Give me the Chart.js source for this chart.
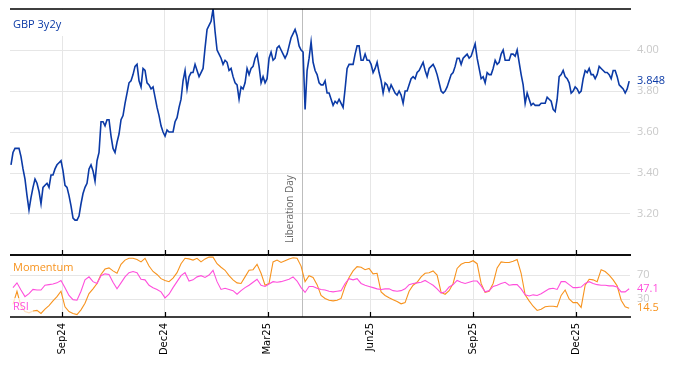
<!DOCTYPE html>
<html><head><meta charset="utf-8">
<script src="https://cdn.jsdelivr.net/npm/chart.js@4.4.1/dist/chart.umd.min.js"></script>
<style>
html,body{margin:0;padding:0;background:#fff;}
#wrap{position:relative;width:674px;height:366px;overflow:hidden;background:#fff;}
#top{position:absolute;left:0;top:0;}
#bot{position:absolute;left:0;top:247px;}
</style></head><body>
<div id="wrap"><canvas id="top" width="674" height="256"></canvas><canvas id="bot" width="674" height="119"></canvas></div>
<script>
// ---- data (x in trading days relative to 2 Sep 2024) ----
const seriesName = 'GBP 3y2y';
const firstDay = -32.25, stepDays = 1.265;
const gbp3y2y = [
3.44,3.50,3.52,3.52,3.52,3.48,3.42,3.37,3.29,3.22,
3.28,3.33,3.37,3.35,3.31,3.25,3.33,3.34,3.35,3.33,
3.39,3.39,3.42,3.44,3.45,3.46,3.41,3.34,3.33,3.29,
3.24,3.18,3.17,3.17,3.19,3.25,3.30,3.33,3.35,3.42,
3.44,3.41,3.36,3.46,3.50,3.65,3.65,3.63,3.66,3.66,
3.58,3.52,3.50,3.55,3.59,3.66,3.68,3.74,3.79,3.84,
3.85,3.88,3.92,3.93,3.85,3.82,3.91,3.90,3.84,3.83,
3.81,3.82,3.77,3.72,3.68,3.63,3.60,3.58,3.61,
3.60,3.60,3.60,3.65,3.67,3.72,3.76,3.85,3.90,3.81,
3.87,3.89,3.89,3.93,3.90,3.87,3.89,3.91,4.01,4.10,
4.12,4.14,4.20,4.09,4.00,3.98,3.96,3.93,3.95,3.94,
3.90,3.91,3.87,3.84,3.83,3.76,3.82,3.81,3.84,3.91,
3.88,3.91,3.92,3.96,3.98,3.92,3.84,3.87,3.84,3.86,
3.96,3.99,3.95,3.96,4.01,4.02,4.00,3.98,3.96,3.98,
4.02,4.06,4.08,4.10,4.07,4.02,4.00,3.99,3.71,3.90,
3.96,4.04,3.94,3.90,3.88,3.84,
3.83,3.83,3.85,3.79,3.79,3.76,3.73,3.75,3.74,3.76,
3.74,3.72,3.81,3.91,3.93,3.93,3.93,3.98,4.02,4.02,
3.95,3.95,3.98,3.95,3.95,3.93,3.89,3.91,3.94,3.89,
3.85,3.79,3.84,3.83,3.80,3.83,3.81,3.79,3.78,3.80,
3.78,3.74,3.80,3.80,3.83,3.86,3.87,3.86,3.89,3.90,
3.92,3.94,3.90,3.87,3.91,3.92,3.93,3.91,3.88,3.84,
3.80,3.79,3.80,3.82,3.85,3.88,3.89,3.92,3.96,3.96,
3.93,3.96,3.97,3.98,3.96,3.97,
4.00,4.03,3.96,3.91,3.86,3.87,3.84,3.89,3.88,3.88,
3.91,3.95,3.93,3.94,3.98,4.00,3.95,3.95,3.95,3.98,
3.98,3.97,4.00,3.94,3.88,3.83,3.74,3.79,3.76,3.73,
3.74,3.73,3.73,3.73,3.74,3.74,3.74,3.77,3.76,3.75,
3.71,3.70,3.76,3.87,3.88,3.90,3.87,3.86,3.84,3.79,
3.80,3.82,3.81,3.79,3.80,3.86,3.90,3.89,3.91,3.88,
3.88,3.86,3.88,3.92,3.91,3.90,3.89,3.89,3.88,3.86,
3.90,3.90,3.87,3.83,3.82,3.81,3.79,3.81,3.848
];
const indFirstDay = -31.0, indStepDays = 2.53;
const momentum = [
21,43,18,9,7,10,11,6,13,19,27,34,43,17,9,6,4,12,23,39,
47,56,71,80,82,77,73,88,95,98,98,96,92,98,85,76,71,64,61,59,
65,74,89,98,97,95,98,92,97,100,100,89,
83,78,69,62,57,56,67,78,79,88,73,53,56,92,95,91,94,97,99,98,85,59,69,66,54,
36,31,28,27,28,31,51,66,77,84,83,79,81,72,73,42,36,32,29,26,
22,24,43,53,58,67,73,74,77,70,41,38,44,56,81,88,91,91,
94,89,56,41,43,56,82,92,91,91,93,96,73,37,27,18,11,13,17,18,
18,17,36,45,30,24,24,16,53,63,62,59,79,76,70,62,52,28,17,14.5
];
const rsi = [
49,57,45,34,39,46,45,45,53,54,55,57,61,49,36,29,28,43,62,67,
59,56,69,72,71,58,47,57,67,74,76,74,63,62,53,49,46,42,32,38,
49,59,69,74,60,62,67,69,66,70,78,59,
46,48,46,44,38,44,49,53,58,63,53,51,55,59,58,59,61,63,67,60,49,41,51,51,48,
46,45,43,42,43,44,56,64,62,64,56,53,51,49,47,46,47,47,44,43,
44,47,54,56,57,58,61,57,53,47,40,42,50,54,61,58,56,58,
60,60,52,42,44,51,53,56,58,53,54,54,47,37,35,37,36,39,43,47,
48,46,59,59,54,49,49,50,56,59,56,54,53,53,52,52,50,42,42,47.1
];
const monthTickDays = [0,65,130,195,260,325];
const monthTickLabels = ['Sep24','Dec24','Mar25','Jun25','Sep25','Dec25'];
const rateTicks = [3.2,3.4,3.6,3.8,4.0];
const indicatorTicks = [30,70];
const eventDay = 152;
const eventLabel = 'Liberation Day';

// ---- styling ----
const BLUE = '#0b3aa6', ORANGE = '#f7931e', PINK = '#ff4fdc', GRID = '#e6e6e6', TICKGREY = '#c9c9c9';
const FONT = 'Open Sans';
const xMin = -32.88, xMax = 359.15;

function xScale(showLabels) {
  return {
    type: 'linear', min: xMin, max: xMax,
    afterBuildTicks(s) { s.ticks = monthTickDays.map(v => ({ value: v })); },
    ticks: {
      display: showLabels, autoSkip: false, minRotation: 90, maxRotation: 90, padding: 6,
      color: '#000', font: { family: 'DejaVu Sans', size: 10 },
      callback: (v, i) => monthTickLabels[i]
    },
    grid: { color: GRID, drawTicks: false },
    border: { display: false },
    afterFit(s) { s.height = showLabels ? 49 : 1; s.paddingLeft = 0; s.paddingRight = 0; }
  };
}

function yAfterFit(s) { s.width = 44; s.paddingTop = 0; s.paddingBottom = 0; }

function frame(chart, withTop) {
  const { ctx, chartArea: a, scales: { x } } = chart;
  ctx.save();
  ctx.strokeStyle = '#000';
  ctx.lineWidth = 1.4;
  ctx.beginPath();
  if (withTop) { ctx.moveTo(a.left, a.top); ctx.lineTo(a.right + 1, a.top); }
  ctx.moveTo(a.left, a.bottom); ctx.lineTo(a.right + 1, a.bottom);
  ctx.stroke();
  ctx.lineWidth = 1.2;
  ctx.beginPath();
  monthTickDays.forEach(d => {
    const px = Math.round(x.getPixelForValue(d)) + 0.5;
    ctx.moveTo(px, a.bottom); ctx.lineTo(px, a.bottom - 5);
  });
  ctx.stroke();
  ctx.restore();
}

function eventLine(chart) {
  const { ctx, chartArea: a, scales: { x } } = chart;
  const ex = Math.round(x.getPixelForValue(eventDay)) + 0.5;
  ctx.save();
  ctx.strokeStyle = '#bdbdbd'; ctx.lineWidth = 1;
  ctx.beginPath(); ctx.moveTo(ex, a.top); ctx.lineTo(ex, a.bottom); ctx.stroke();
  ctx.restore();
  return ex;
}

function lastLabel(chart, scaleId, value, text, color) {
  const { ctx, chartArea: a } = chart;
  const y = chart.scales[scaleId].getPixelForValue(value);
  ctx.save();
  ctx.fillStyle = color; ctx.font = '11px "' + FONT + '"';
  ctx.textAlign = 'left'; ctx.textBaseline = 'middle';
  ctx.fillText(text, a.right + 7, y);
  ctx.restore();
}

const topDeco = {
  id: 'topDeco',
  beforeDatasetsDraw(chart) {
    const { ctx, chartArea: a } = chart;
    const ex = eventLine(chart);
    ctx.save();
    ctx.translate(ex - 12, a.bottom - 12);
    ctx.rotate(-Math.PI / 2);
    ctx.font = '10px "' + FONT + '"'; ctx.fillStyle = '#666';
    ctx.textAlign = 'left'; ctx.textBaseline = 'middle';
    ctx.fillText(eventLabel, 0, 0);
    ctx.restore();
  },
  afterDatasetsDraw(chart) {
    const { ctx, chartArea: a } = chart;
    ctx.save();
    ctx.fillStyle = '#fff';
    ctx.fillRect(a.left, a.top + 1, 55, 26);
    ctx.fillStyle = BLUE; ctx.font = '11px "' + FONT + '"';
    ctx.textAlign = 'left'; ctx.textBaseline = 'middle';
    ctx.fillText(seriesName, a.left + 3, a.top + 16);
    ctx.restore();
    frame(chart, true);
    const last = gbp3y2y[gbp3y2y.length - 1];
    lastLabel(chart, 'y', last, last.toFixed(3), BLUE);
  }
};

const botDeco = {
  id: 'botDeco',
  beforeDatasetsDraw(chart) { eventLine(chart); },
  afterDatasetsDraw(chart) {
    const { ctx, chartArea: a } = chart;
    ctx.save();
    ctx.fillStyle = 'rgba(255,255,255,0.7)';
    ctx.fillRect(a.left, a.top + 43, 23, 18);
    ctx.font = '11px "' + FONT + '"'; ctx.textAlign = 'left'; ctx.textBaseline = 'middle';
    ctx.fillStyle = PINK; ctx.fillText('RSI', a.left + 3, a.top + 52);
    ctx.fillStyle = ORANGE; ctx.fillText('Momentum', a.left + 3, a.top + 13);
    ctx.restore();
    frame(chart, true);
    const lm = momentum[momentum.length - 1], lr = rsi[rsi.length - 1];
    lastLabel(chart, 'y', lr, lr.toFixed(1), PINK);
    lastLabel(chart, 'y', lm, lm.toFixed(1), ORANGE);
  }
};

const common = {
  responsive: false, animation: false, devicePixelRatio: 1,
  plugins: { legend: { display: false }, tooltip: { enabled: false } },
  elements: { point: { radius: 0 }, line: { tension: 0 } },
};

new Chart(document.getElementById('top'), {
  type: 'line',
  data: { datasets: [{
    data: gbp3y2y.map((v, i) => ({ x: firstDay + i * stepDays, y: v })),
    borderColor: BLUE, borderWidth: 1.6
  }] },
  options: Object.assign({}, common, {
    layout: { padding: { top: 9, left: 10, right: 0, bottom: 0 } },
    scales: {
      x: xScale(false),
      y: {
        position: 'right', min: 3.0, max: 4.2,
        afterBuildTicks(s) { s.ticks = rateTicks.map(v => ({ value: v })); },
        ticks: { color: TICKGREY, font: { family: FONT, size: 11 }, padding: 7, callback: v => v.toFixed(2) },
        grid: { color: GRID, drawTicks: false },
        border: { display: false },
        afterFit: yAfterFit
      }
    }
  }),
  plugins: [topDeco]
});

new Chart(document.getElementById('bot'), {
  type: 'line',
  data: { datasets: [
    { data: rsi.map((v, i) => ({ x: indFirstDay + i * indStepDays, y: v })), borderColor: PINK, borderWidth: 1.1 },
    { data: momentum.map((v, i) => ({ x: indFirstDay + i * indStepDays, y: v })), borderColor: ORANGE, borderWidth: 1.1 }
  ] },
  options: Object.assign({}, common, {
    layout: { padding: { top: 8, left: 10, right: 0, bottom: 0 } },
    scales: {
      x: xScale(true),
      y: {
        position: 'right', min: 0, max: 103.5,
        afterBuildTicks(s) { s.ticks = indicatorTicks.map(v => ({ value: v })); },
        ticks: { color: TICKGREY, font: { family: FONT, size: 11 }, padding: 7, callback: v => String(v) },
        grid: { color: GRID, drawTicks: false },
        border: { display: false },
        afterFit: yAfterFit
      }
    }
  }),
  plugins: [botDeco]
});
</script>
</body></html>
